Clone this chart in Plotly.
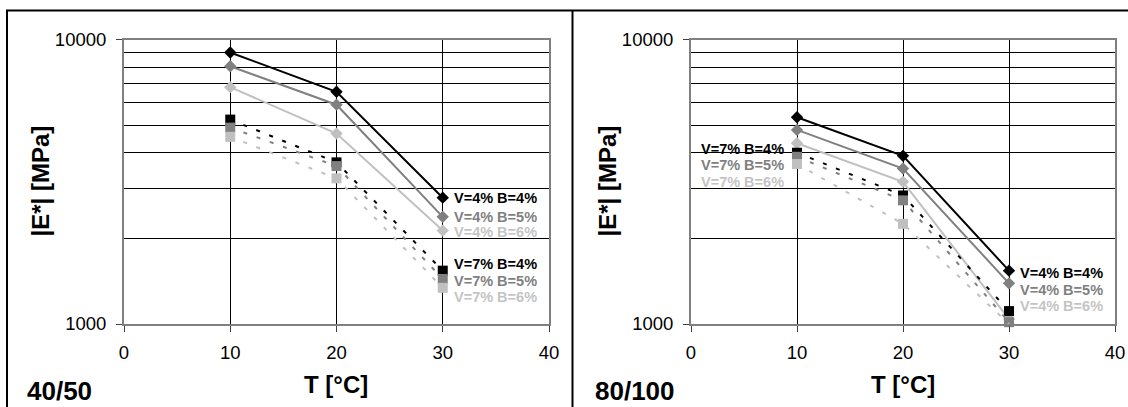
import numpy as np
import plotly.graph_objects as go

W, H = 1128, 407

temps = [10, 20, 30]
series_names = ["V=4% B=4%", "V=4% B=5%", "V=4% B=6%", "V=7% B=4%", "V=7% B=5%", "V=7% B=6%"]

# 40/50 binder (left panel)
left_v4b4 = [9000, 6550, 2780]
left_v4b5 = [8050, 5900, 2380]
left_v4b6 = [6800, 4670, 2130]
left_v7b4 = [5230, 3700, 1540]
left_v7b5 = [4900, 3590, 1440]
left_v7b6 = [4550, 3250, 1340]

# 80/100 binder (right panel)
right_v4b4 = [5330, 3900, 1540]
right_v4b5 = [4810, 3520, 1390]
right_v4b6 = [4320, 3160, 1040]
right_v7b4 = [4000, 2830, 1110]
right_v7b5 = [3870, 2720, 1015]
right_v7b6 = [3650, 2250, 1000]

x_ticks = [0, 10, 20, 30, 40]
y_ticks = [1000, 10000]
y_minor = [2000, 3000, 4000, 5000, 6000, 7000, 8000, 9000]
panel_names = ["40/50", "80/100"]

colors = ["#000000", "#808080", "#c0c0c0", "#000000", "#808080", "#c0c0c0"]
label_colors = ["#000000", "#808080", "#c4c4c4", "#000000", "#808080", "#c4c4c4"]

FONT = "Liberation Sans, Arial, sans-serif"

def px_x(p):
    return p / W

def px_y(p):
    return 1 - p / H

fig = go.Figure()

left_data = [left_v4b4, left_v4b5, left_v4b6, left_v7b4, left_v7b5, left_v7b6]
right_data = [right_v4b4, right_v4b5, right_v4b6, right_v7b4, right_v7b5, right_v7b6]

for panel, data in enumerate([left_data, right_data]):
    xa = "x" if panel == 0 else "x2"
    ya = "y" if panel == 0 else "y2"
    for i, vals in enumerate(data):
        solid = i < 3
        fig.add_trace(go.Scatter(
            x=temps, y=vals, xaxis=xa, yaxis=ya,
            mode="lines+markers",
            line=dict(color=colors[i], width=2, dash="solid" if solid else "4px,10px"),
            marker=dict(symbol="diamond" if solid else "square",
                        size=9.5 if solid else 10, color=colors[i]),
            showlegend=False, cliponaxis=False, name=series_names[i],
        ))

# data labels: (panel, series index, point index, side, xshift, yshift)
label_specs = [
    (0, 0, 2, "left", 9, 0),
    (0, 1, 2, "left", 9, 0),
    (0, 2, 2, "left", 9, -1),
    (0, 3, 2, "left", 9, 7),
    (0, 4, 2, "left", 9, -2),
    (0, 5, 2, "left", 9, -9),
    (1, 0, 2, "left", 9, -2),
    (1, 1, 2, "left", 9, -7),
    (1, 2, 2, "left", 9, 13),
    (1, 3, 0, "right", -11, 4),
    (1, 4, 0, "right", -11, -8),
    (1, 5, 0, "right", -11, -18),
]

annotations = []
for panel, si, pi, side, xs, ys in label_specs:
    data = left_data if panel == 0 else right_data
    annotations.append(dict(
        x=temps[pi], y=np.log10(data[si][pi]),
        xref="x" if panel == 0 else "x2", yref="y" if panel == 0 else "y2",
        text="<b>%s</b>" % series_names[si], showarrow=False,
        xanchor=side, yanchor="middle", xshift=xs, yshift=ys,
        font=dict(family=FONT, size=14.5, color=label_colors[si]),
    ))

# axis titles and panel names (positions in pixels)
for off, name, name_x in [(0, panel_names[0], 59.5), (567, panel_names[1], 634.5)]:
    annotations.append(dict(x=px_x(40.5 + off), y=px_y(181), xref="paper", yref="paper",
                            text="<b>|E*| [MPa]</b>", textangle=-90, showarrow=False,
                            xanchor="center", yanchor="middle",
                            font=dict(family=FONT, size=24, color="black")))
    annotations.append(dict(x=px_x(336 + off), y=px_y(384), xref="paper", yref="paper",
                            text="<b>T [°C]</b>", showarrow=False,
                            xanchor="center", yanchor="middle",
                            font=dict(family=FONT, size=24, color="black")))
    annotations.append(dict(x=px_x(name_x), y=px_y(391), xref="paper", yref="paper",
                            text="<b>%s</b>" % name, showarrow=False,
                            xanchor="center", yanchor="middle",
                            font=dict(family=FONT, size=26, color="black")))

ydom = [px_y(324), px_y(39.5)]

def xaxis_cfg(domain, anchor):
    return dict(domain=domain, anchor=anchor, range=[0, 40], tickvals=x_ticks,
                showgrid=True, gridcolor="black", gridwidth=1,
                showline=True, linecolor="#808080", linewidth=2, mirror=True,
                ticks="outside", ticklen=6, tickcolor="#404040", tickwidth=1,
                ticklabelstandoff=5,
                tickfont=dict(family=FONT, size=18.5, color="black"),
                zeroline=False, fixedrange=True, automargin=False)

def yaxis_cfg(anchor):
    return dict(domain=ydom, anchor=anchor, type="log", range=[3, 4],
                tickvals=y_ticks, ticktext=["1000", "10000"],
                showgrid=False,
                minor=dict(tickvals=y_minor, showgrid=True, gridcolor="black",
                           gridwidth=1, ticks=""),
                showline=True, linecolor="#808080", linewidth=2, mirror=True,
                ticks="outside", ticklen=6, tickcolor="#404040", tickwidth=1,
                ticklabelstandoff=6,
                tickfont=dict(family=FONT, size=18.5, color="black"),
                zeroline=False, fixedrange=True, automargin=False)

shapes = [
    dict(type="line", xref="paper", yref="paper", x0=px_x(7), x1=px_x(7), y0=px_y(10), y1=px_y(410),
         line=dict(color="black", width=2)),
    dict(type="line", xref="paper", yref="paper", x0=px_x(6), x1=px_x(1130), y0=px_y(10.5), y1=px_y(10.5),
         line=dict(color="black", width=2)),
    dict(type="line", xref="paper", yref="paper", x0=px_x(572.5), x1=px_x(572.5), y0=px_y(10), y1=px_y(410),
         line=dict(color="black", width=2)),
]

fig.update_layout(
    width=W, height=H,
    margin=dict(l=0, r=0, t=0, b=0, pad=0, autoexpand=False),
    paper_bgcolor="white", plot_bgcolor="white",
    xaxis=xaxis_cfg([px_x(124), px_x(549)], "y"),
    yaxis=yaxis_cfg("x"),
    xaxis2=xaxis_cfg([px_x(691), px_x(1115)], "y2"),
    yaxis2=yaxis_cfg("x2"),
    annotations=annotations,
    shapes=shapes,
    showlegend=False,
)

fig.write_html("out.html")
